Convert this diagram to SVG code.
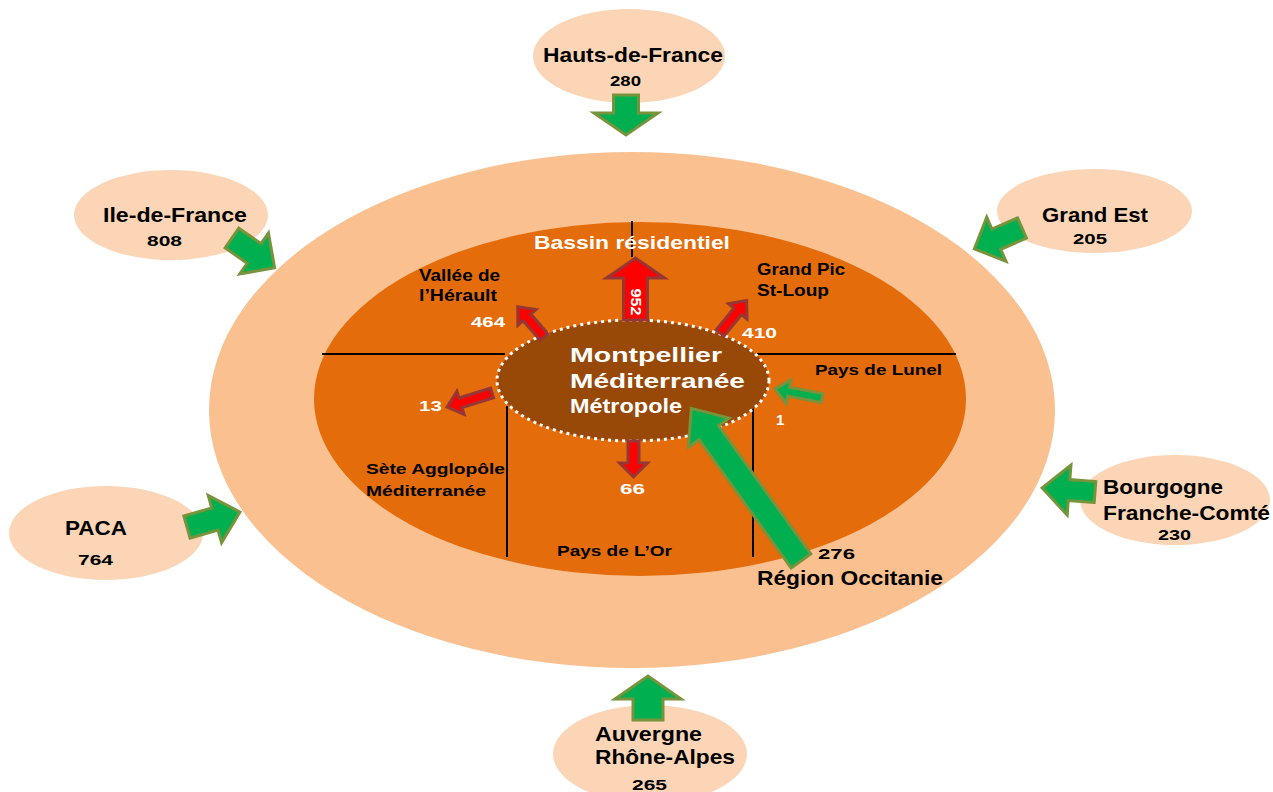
<svg xmlns="http://www.w3.org/2000/svg" width="1273" height="792" viewBox="0 0 1273 792">
<style>
.sat{fill:#FBD5B5}
.t{font-family:"Liberation Sans",Arial,sans-serif;font-weight:bold;fill:#000}
.w{font-family:"Liberation Sans",Arial,sans-serif;font-weight:bold;fill:#fff}
.ttl{font-size:20.5px}
.num{font-size:14px}
.lbl{font-size:15px}
.g{fill:#00B050;stroke:#77933C;stroke-width:3;stroke-linejoin:miter}
.r{fill:#FF0000;stroke:#953735;stroke-width:3;stroke-linejoin:miter}
.ln{stroke:#000;stroke-width:2;fill:none}
</style>
<rect width="1273" height="792" fill="#fff"/>
<g id="region-occitanie-zone">
<ellipse cx="632" cy="410" rx="423" ry="258" fill="#FAC090"/>
</g>
<g id="bassin-residentiel">
<ellipse cx="640" cy="399" rx="326" ry="177" fill="#E46C0A"/>
<line class="ln" x1="632" y1="221" x2="632" y2="257"/>
<line class="ln" x1="322" y1="354" x2="505" y2="354"/>
<line class="ln" x1="755" y1="354" x2="956" y2="354"/>
<line class="ln" x1="507" y1="406" x2="507" y2="557"/>
<line class="ln" x1="753" y1="406" x2="753" y2="557"/>
<text class="w" x="534" y="249" font-size="18.6" textLength="196" lengthAdjust="spacingAndGlyphs">Bassin résidentiel</text>
</g>
<g id="vallee-herault">
<text class="t" x="419" y="281" font-size="16" textLength="81" lengthAdjust="spacingAndGlyphs">Vallée de</text>
<text class="t" x="419" y="301" font-size="16" textLength="78" lengthAdjust="spacingAndGlyphs">l’Hérault</text>
<text class="w" x="471" y="327" font-size="15" textLength="34" lengthAdjust="spacingAndGlyphs">464</text>
</g>
<g id="grand-pic-st-loup">
<text class="t" x="757" y="275" font-size="16" textLength="88" lengthAdjust="spacingAndGlyphs">Grand Pic</text>
<text class="t" x="757" y="296" font-size="16" textLength="72" lengthAdjust="spacingAndGlyphs">St-Loup</text>
<text class="w" x="742" y="338" font-size="15" textLength="35" lengthAdjust="spacingAndGlyphs">410</text>
</g>
<g id="pays-de-lunel">
<text class="t lbl" x="815" y="375" textLength="127" lengthAdjust="spacingAndGlyphs">Pays de Lunel</text>
<text class="w" x="776" y="425" font-size="15">1</text>
</g>
<g id="sete-agglopole">
<text class="t lbl" x="366" y="474" textLength="139" lengthAdjust="spacingAndGlyphs">Sète Agglopôle</text>
<text class="t lbl" x="366" y="496" textLength="120" lengthAdjust="spacingAndGlyphs">Méditerranée</text>
<text class="w" x="419" y="411" font-size="15" textLength="23" lengthAdjust="spacingAndGlyphs">13</text>
</g>
<g id="pays-de-l-or">
<text class="t lbl" x="557" y="556" textLength="115" lengthAdjust="spacingAndGlyphs">Pays de L’Or</text>
<text class="w" x="620" y="494" font-size="15" textLength="25" lengthAdjust="spacingAndGlyphs">66</text>
</g>
<g id="montpellier">
<ellipse cx="633" cy="380.5" rx="136" ry="60.5" fill="#984807" stroke="#fff" stroke-width="3" stroke-dasharray="3 4"/>
<text class="w" x="570" y="362" font-size="19.5" textLength="152" lengthAdjust="spacingAndGlyphs">Montpellier</text>
<text class="w" x="570" y="388" font-size="19.5" textLength="175" lengthAdjust="spacingAndGlyphs">Méditerranée</text>
<text class="w" x="570" y="413" font-size="19.5" textLength="112" lengthAdjust="spacingAndGlyphs">Métropole</text>
</g>
<g id="region-occitanie">
<text class="t lbl" x="818" y="559" textLength="37" lengthAdjust="spacingAndGlyphs">276</text>
<text class="t" x="757" y="585" font-size="21" textLength="186" lengthAdjust="spacingAndGlyphs">Région Occitanie</text>
</g>
<g id="hauts-de-france">
<ellipse class="sat" cx="629" cy="56" rx="96" ry="47"/>
<text class="t ttl" x="543" y="62" textLength="180" lengthAdjust="spacingAndGlyphs">Hauts-de-France</text>
<text class="t num" x="610" y="86" textLength="31" lengthAdjust="spacingAndGlyphs">280</text>
</g>
<g id="ile-de-france">
<ellipse class="sat" cx="171" cy="215" rx="97" ry="45"/>
<text class="t ttl" x="103" y="222" textLength="144" lengthAdjust="spacingAndGlyphs">Ile-de-France</text>
<text class="t num" x="147" y="246" textLength="35" lengthAdjust="spacingAndGlyphs">808</text>
</g>
<g id="grand-est">
<ellipse class="sat" cx="1094.5" cy="211" rx="97.5" ry="42"/>
<text class="t ttl" x="1042" y="222" textLength="106" lengthAdjust="spacingAndGlyphs">Grand Est</text>
<text class="t num" x="1073" y="244" textLength="34" lengthAdjust="spacingAndGlyphs">205</text>
</g>
<g id="paca">
<ellipse class="sat" cx="106" cy="533" rx="97" ry="47"/>
<text class="t" x="65" y="535" font-size="21" textLength="62" lengthAdjust="spacingAndGlyphs">PACA</text>
<text class="t" x="78" y="565" font-size="15" textLength="35" lengthAdjust="spacingAndGlyphs">764</text>
</g>
<g id="bourgogne-franche-comte">
<ellipse class="sat" cx="1175" cy="500" rx="95" ry="45"/>
<text class="t ttl" x="1103" y="494" textLength="120" lengthAdjust="spacingAndGlyphs">Bourgogne</text>
<text class="t ttl" x="1103" y="520" textLength="167" lengthAdjust="spacingAndGlyphs">Franche-Comté</text>
<text class="t num" x="1158" y="540" textLength="33" lengthAdjust="spacingAndGlyphs">230</text>
</g>
<g id="auvergne-rhone-alpes">
<ellipse class="sat" cx="650" cy="754" rx="97" ry="49"/>
<text class="t ttl" x="595" y="741" textLength="107" lengthAdjust="spacingAndGlyphs">Auvergne</text>
<text class="t ttl" x="595" y="764" textLength="140" lengthAdjust="spacingAndGlyphs">Rhône-Alpes</text>
<text class="t num" x="632" y="790" textLength="35" lengthAdjust="spacingAndGlyphs">265</text>
</g>
<g id="connectors">
<path class="r" transform="translate(635.5,320) rotate(-90)" d="M0,-12 H42 V-29 L62,0 L42,29 V12 H0 Z"/>
<text class="w" font-size="15" transform="translate(636,302) rotate(90)" x="0" y="5.5" text-anchor="middle" textLength="27" lengthAdjust="spacingAndGlyphs">952</text>
<path class="r" transform="translate(544,337) rotate(229)" d="M0,-5 H26 V-12 L40,0 L26,12 V5 H0 Z"/>
<path class="r" transform="translate(720,333) rotate(-50.7)" d="M0,-5 H28 V-12 L42,0 L28,12 V5 H0 Z"/>
<path class="r" transform="translate(492,393) rotate(162.7)" d="M0,-5 H33 V-12 L47,0 L33,12 V5 H0 Z"/>
<path class="r" transform="translate(633.5,441) rotate(90)" d="M0,-5.5 H22 V-14 L36,0 L22,14 V5.5 H0 Z"/>
<path class="g" transform="translate(626,95) rotate(90)" d="M0,-12.5 H18 V-32 L40,0 L18,32 V12.5 H0 Z"/>
<path class="g" transform="translate(232,238) rotate(35)" d="M0,-12 H27 V-25 L52,0 L27,25 V12 H0 Z"/>
<path class="g" transform="translate(1022,228) rotate(156.4)" d="M0,-11 H28 V-24 L52,0 L28,24 V11 H0 Z"/>
<path class="g" transform="translate(187,527) rotate(-15.8)" d="M0,-11.5 H29 V-24.5 L55,0 L29,24.5 V11.5 H0 Z"/>
<path class="g" transform="translate(1095,492) rotate(184.3)" d="M0,-10.5 H26 V-25 L53,0 L26,25 V10.5 H0 Z"/>
<path class="g" transform="translate(648,720) rotate(-90)" d="M0,-15 H21 V-33 L44,0 L21,33 V15 H0 Z"/>
<path class="g" transform="translate(801,561) rotate(234.3)" d="M0,-12 H158 V-25 L188,0 L158,25 V12 H0 Z"/>
<path class="g" transform="translate(822,398) rotate(190.8)" d="M0,-4.5 H34 V-12 L48,0 L34,12 V4.5 H0 Z"/>
</g>
</svg>
